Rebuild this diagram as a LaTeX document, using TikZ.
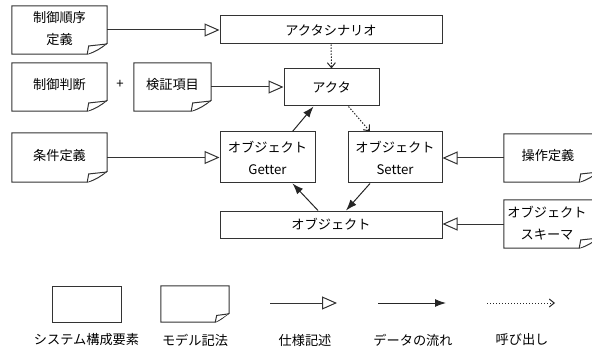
\documentclass[tikz,border=0pt]{standalone}
\usepackage{fontspec}
\setmainfont{Noto Sans CJK JP}
\usetikzlibrary{arrows.meta}
\tikzset{
  every node/.style={font=\fontsize{13.2pt}{22pt}\selectfont, text=black},
  box/.style={draw=black!80, line width=1pt, rectangle, inner sep=0pt, align=center},
  doc/.style={rectangle, inner sep=0pt, align=center},
  docline/.style={draw=black!80, line width=1pt, fill=white},
  spec/.style={draw=black!80, line width=1pt, -{Triangle[open, length=15pt, width=13pt, fill=white]}},
  flow/.style={draw=black!85, line width=1pt, -{Latex[length=11pt, width=8pt]}},
  call/.style={draw=black!85, line width=1pt, dash pattern=on 1.4pt off 1.6pt, -{Straight Barb[length=5pt, width=8pt]}},
}
\newcommand\drawdoc[3]{%
  \draw[docline] (#1.north west) -- (#1.north east) -- ([yshift=#3]#1.south east)
    .. controls ([xshift=-6pt,yshift=#3*0.55]#1.south east) and ([xshift=-#2*0.6,yshift=2pt]#1.south east) .. ([xshift=-#2]#1.south east)
    -- (#1.south west) -- cycle;
  \draw[docline] ([xshift=-#2]#1.south east) -- ([xshift=-#2+1.5pt,yshift=#3*0.75]#1.south east)
    -- ([xshift=-1pt,yshift=#3*0.92]#1.south east) -- ([yshift=#3]#1.south east);
}
\begin{document}
\begin{tikzpicture}[x=1pt,y=-1pt]
\useasboundingbox (0,0) rectangle (592,350);
% boxes
\node[box, minimum width=222pt, minimum height=28pt] (scen) at (331,30) {アクタシナリオ};
\node[box, minimum width=95pt, minimum height=37pt] (actor) at (331.5,87.5) {アクタ};
\node[box, minimum width=95pt, minimum height=51pt] (getter) at (267.5,157.5) {オブジェクト\\Getter};
\node[box, minimum width=94pt, minimum height=51pt] (setter) at (395,157.5) {オブジェクト\\Setter};
\node[box, minimum width=222pt, minimum height=27pt] (obj) at (331,224.5) {オブジェクト};
% documents
\node[doc, minimum width=95pt, minimum height=48pt] (d1) at (59.5,30) {};
\drawdoc{d1}{20pt}{11pt}
\node[align=center] (d1t) at (59.5,29) {制御順序\\定義};
\node[doc, minimum width=95pt, minimum height=48pt] (d2) at (59.5,87) {};
\drawdoc{d2}{20pt}{11pt}
\node (d2t) at (59.5,85) {制御判断};
\node[doc, minimum width=77pt, minimum height=48pt] (d3) at (172.5,87) {};
\drawdoc{d3}{20pt}{11pt}
\node (d3t) at (172.5,85) {検証項目};
\node (plus) at (120,84) {+};
\node[doc, minimum width=95pt, minimum height=49pt] (d4) at (59.5,157.5) {};
\drawdoc{d4}{20pt}{11pt}
\node (d4t) at (59.5,156) {条件定義};
\node[doc, minimum width=95pt, minimum height=48pt] (d5) at (551.5,158) {};
\drawdoc{d5}{20pt}{11pt}
\node (d5t) at (548,156) {操作定義};
\node[doc, minimum width=95pt, minimum height=48pt] (d6) at (551.5,224) {};
\drawdoc{d6}{20pt}{11pt}
\node[align=center] (d6t) at (547,223) {オブジェクト\\スキーマ};
% connectors
\draw[spec] (d1.east) -- (scen.west);
\draw[spec] (d3.east) -- (d3.east -| actor.west);
\draw[spec] (d4.east) -- (d4.east -| getter.west);
\draw[spec] (d5.west) -- (d5.west -| setter.east);
\draw[spec] (d6.west) -- (d6.west -| obj.east);
\draw[call] (scen.south) -- (actor.north);
\draw[flow] ([xshift=25pt]getter.north) -- ([xshift=-18pt]actor.south);
\draw[call] ([xshift=17pt]actor.south) -- ([xshift=-25pt]setter.north);
\draw[flow] ([xshift=-13pt]obj.north) -- ([xshift=25pt]getter.south);
\draw[flow] ([xshift=-25pt]setter.south) -- ([xshift=15pt]obj.north);
% legend
\node[box, minimum width=69pt, minimum height=36pt] (lg1) at (86.5,304) {};
\node[doc, minimum width=68pt, minimum height=36pt] (lg2) at (195,304) {};
\drawdoc{lg2}{14pt}{9pt}
\coordinate (s1) at (270,303);
\coordinate (s2) at (337,303);
\coordinate (f1) at (378,303);
\coordinate (f2) at (446,303);
\coordinate (c1) at (487,303);
\coordinate (c2) at (555,303);
\draw[spec] (s1) -- (s2);
\draw[flow] (f1) -- (f2);
\draw[call] (c1) -- (c2);
\node (l1) at (86.5,340) {システム構成要素};
\node (l2) at (195,340) {モデル記法};
\node (l3) at (305,340) {仕様記述};
\node (l4) at (413,340) {データの流れ};
\node (l5) at (522,340) {呼び出し};
\end{tikzpicture}
\end{document}
